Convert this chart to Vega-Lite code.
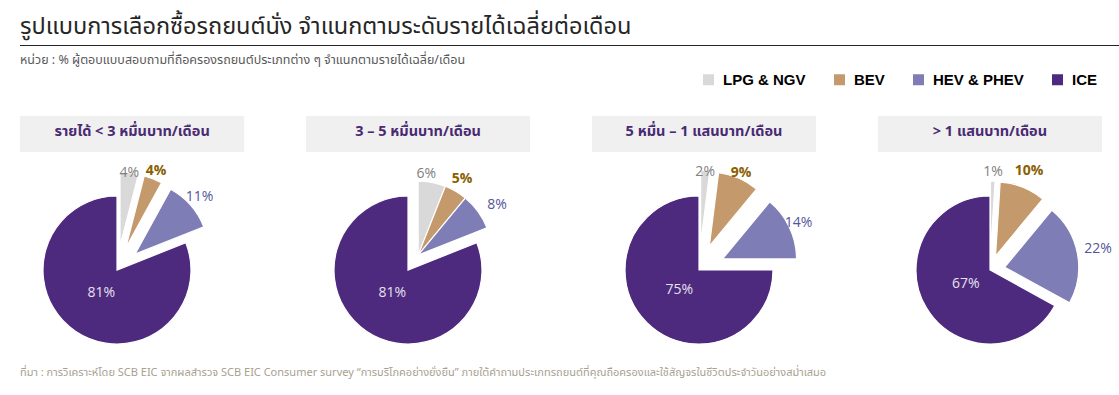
{
  "$schema": "https://vega.github.io/schema/vega-lite/v6.json",
  "padding": {"left": 20, "top": 15, "right": 0, "bottom": 8},
  "background": "white",
  "config": {
    "view": {"stroke": null},
    "font": "Noto Sans Thai, Noto Sans, sans-serif",
    "title": {"fontWeight": "normal"}
  },
  "datasets": {
    "shares": [
      {"panel": "รายได้ < 3 หมื่นบาท/เดือน", "type": "LPG & NGV", "order": 1, "value": 0.04},
      {"panel": "รายได้ < 3 หมื่นบาท/เดือน", "type": "BEV", "order": 2, "value": 0.04},
      {"panel": "รายได้ < 3 หมื่นบาท/เดือน", "type": "HEV & PHEV", "order": 3, "value": 0.11},
      {"panel": "รายได้ < 3 หมื่นบาท/เดือน", "type": "ICE", "order": 4, "value": 0.81},
      {"panel": "3 – 5 หมื่นบาท/เดือน", "type": "LPG & NGV", "order": 1, "value": 0.06},
      {"panel": "3 – 5 หมื่นบาท/เดือน", "type": "BEV", "order": 2, "value": 0.05},
      {"panel": "3 – 5 หมื่นบาท/เดือน", "type": "HEV & PHEV", "order": 3, "value": 0.08},
      {"panel": "3 – 5 หมื่นบาท/เดือน", "type": "ICE", "order": 4, "value": 0.81},
      {"panel": "5 หมื่น – 1 แสนบาท/เดือน", "type": "LPG & NGV", "order": 1, "value": 0.02},
      {"panel": "5 หมื่น – 1 แสนบาท/เดือน", "type": "BEV", "order": 2, "value": 0.09},
      {"panel": "5 หมื่น – 1 แสนบาท/เดือน", "type": "HEV & PHEV", "order": 3, "value": 0.14},
      {"panel": "5 หมื่น – 1 แสนบาท/เดือน", "type": "ICE", "order": 4, "value": 0.75},
      {"panel": "> 1 แสนบาท/เดือน", "type": "LPG & NGV", "order": 1, "value": 0.01},
      {"panel": "> 1 แสนบาท/เดือน", "type": "BEV", "order": 2, "value": 0.10},
      {"panel": "> 1 แสนบาท/เดือน", "type": "HEV & PHEV", "order": 3, "value": 0.22},
      {"panel": "> 1 แสนบาท/เดือน", "type": "ICE", "order": 4, "value": 0.67}
    ],
    "panels": [
      {"panel": "รายได้ < 3 หมื่นบาท/เดือน"},
      {"panel": "3 – 5 หมื่นบาท/เดือน"},
      {"panel": "5 หมื่น – 1 แสนบาท/เดือน"},
      {"panel": "> 1 แสนบาท/เดือน"}
    ]
  },
  "spacing": 4,
  "vconcat": [
    {
      "title": {"text": "รูปแบบการเลือกซื้อรถยนต์นั่ง จำแนกตามระดับรายได้เฉลี่ยต่อเดือน", "anchor": "start", "fontSize": 23.5, "color": "#262626", "offset": -15, "baseline": "alphabetic"},
      "width": 1099,
      "height": 1,
      "view": {"fill": "#262626", "stroke": null},
      "data": {"values": [{}]},
      "mark": {"type": "point", "opacity": 0},
      "encoding": {}
    },
    {
      "spacing": 23,
      "bounds": "flush",
      "vconcat": [
        {
          "title": {"text": "หน่วย : % ผู้ตอบแบบสอบถามที่ถือครองรถยนต์ประเภทต่าง ๆ จำแนกตามรายได้เฉลี่ย/เดือน", "anchor": "start", "fontSize": 12.5, "color": "#595959", "offset": 50},
          "width": 1082,
          "height": 36,
          "data": {"name": "panels"},
          "layer": [
            {
              "mark": {"type": "bar", "color": "#f0f0f0"},
              "encoding": {
                "x": {"field": "panel", "type": "nominal", "axis": null,
                  "sort": ["รายได้ < 3 หมื่นบาท/เดือน", "3 – 5 หมื่นบาท/เดือน", "5 หมื่น – 1 แสนบาท/เดือน", "> 1 แสนบาท/เดือน"],
                  "scale": {"paddingInner": 0.216, "paddingOuter": 0}}
              }
            },
            {
              "mark": {"type": "text", "color": "#4a2a73", "fontSize": 14.5, "fontWeight": "bold", "dy": -2},
              "encoding": {
                "x": {"field": "panel", "type": "nominal", "axis": null,
                  "sort": ["รายได้ < 3 หมื่นบาท/เดือน", "3 – 5 หมื่นบาท/เดือน", "5 หมื่น – 1 แสนบาท/เดือน", "> 1 แสนบาท/เดือน"],
                  "scale": {"paddingInner": 0.216, "paddingOuter": 0}},
                "text": {"field": "panel"}
              }
            }
          ]
        },
        {
          "title": {"text": "ที่มา : การวิเคราะห์โดย SCB EIC จากผลสำรวจ SCB EIC Consumer survey “การบริโภคอย่างยั่งยืน” ภายใต้คำถามประเภทรถยนต์ที่คุณถือครองและใช้สัญจรในชีวิตประจำวันอย่างสม่ำเสมอ", "orient": "bottom", "anchor": "start", "fontSize": 11, "color": "#a89f91", "offset": 2},
          "data": {"name": "shares"},
          "bounds": "flush",
          "facet": {
            "column": {"field": "panel", "type": "nominal", "header": null,
              "sort": ["รายได้ < 3 หมื่นบาท/เดือน", "3 – 5 หมื่นบาท/เดือน", "5 หมื่น – 1 แสนบาท/เดือน", "> 1 แสนบาท/เดือน"]}
          },
          "spacing": {"column": 97},
          "spec": {
            "width": 194,
            "height": 190,
            "layer": [
              {
                "mark": {
                  "type": "arc",
                  "outerRadius": 74,
                  "stroke": "white",
                  "strokeWidth": 1.2,
                  "xOffset": {"expr": "(datum.type === 'ICE' ? 0 : (datum.panel === 'รายได้ < 3 หมื่นบาท/เดือน' ? 24 : datum.panel === '3 – 5 หมื่นบาท/เดือน' ? 18 : datum.panel === '5 หมื่น – 1 แสนบาท/เดือน' ? 26 : 15)) * sin(datum.panel === '3 – 5 หมื่นบาท/เดือน' ? PI * 0.19 : PI * (datum.value_start + datum.value_end))"},
                  "yOffset": {"expr": "-(datum.type === 'ICE' ? 0 : (datum.panel === 'รายได้ < 3 หมื่นบาท/เดือน' ? 24 : datum.panel === '3 – 5 หมื่นบาท/เดือน' ? 18 : datum.panel === '5 หมื่น – 1 แสนบาท/เดือน' ? 26 : 15)) * cos(datum.panel === '3 – 5 หมื่นบาท/เดือน' ? PI * 0.19 : PI * (datum.value_start + datum.value_end))"}
                },
                "encoding": {
                  "theta": {"field": "value", "type": "quantitative", "stack": true},
                  "order": {"field": "order", "type": "quantitative"},
                  "color": {
                    "field": "type", "type": "nominal",
                    "scale": {"domain": ["LPG & NGV", "BEV", "HEV & PHEV", "ICE"], "range": ["#d9d9d9", "#c49a6c", "#7f7db5", "#4e2a7e"]},
                    "legend": {
                      "orient": "none", "legendX": 681, "legendY": 27, "direction": "horizontal", "title": null,
                      "symbolType": "square", "symbolSize": 121, "symbolStrokeWidth": 0, "symbolOpacity": 1,
                      "labelFont": "Liberation Sans", "labelFontSize": 15, "labelFontWeight": "bold", "labelColor": "#000000",
                      "columnPadding": 26, "labelOffset": 7, "padding": 0
                    }
                  }
                }
              },
              {
                "mark": {
                  "type": "text",
                  "font": "Open Sans",
                  "fontSize": 14,
                  "radius": {"expr": "datum.type === 'ICE' ? 28 : datum.type === 'LPG & NGV' ? 98 : datum.type === 'BEV' ? 106 : 110"},
                  "fill": {"expr": "datum.type === 'ICE' ? '#e6e1f0' : datum.type === 'BEV' ? '#8a6000' : datum.type === 'HEV & PHEV' ? '#55559a' : '#808080'"},
                  "fontWeight": {"expr": "datum.type === 'BEV' ? 'bold' : 'normal'"}
                },
                "encoding": {
                  "theta": {"field": "value", "type": "quantitative", "stack": true},
                  "order": {"field": "order", "type": "quantitative"},
                  "text": {"field": "value", "type": "quantitative", "format": ".0%"}
                }
              }
            ]
          }
        }
      ]
    }
  ]
}
